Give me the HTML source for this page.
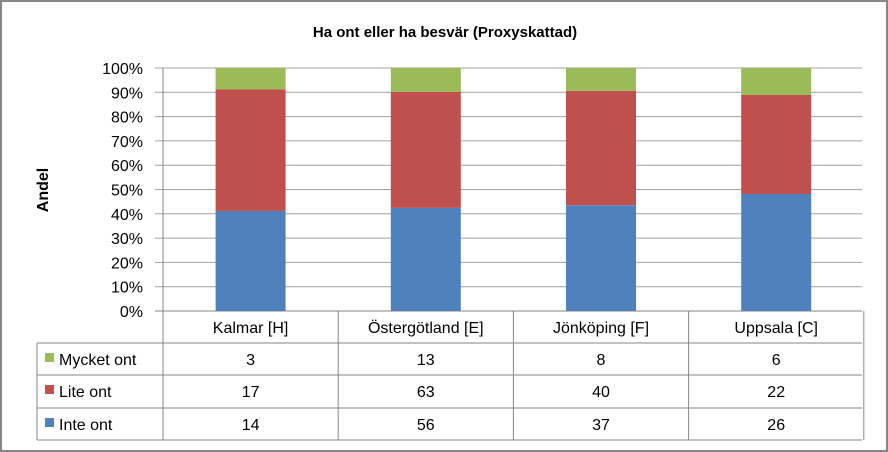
<!DOCTYPE html>
<html><head><meta charset="utf-8"><style>
body{margin:0;background:#fff}
svg{display:block;font-family:"Liberation Sans",sans-serif}
</style></head><body>
<svg id="c" width="888" height="452">
<rect x="1" y="1" width="886" height="450" fill="#fff" stroke="#868686" stroke-width="2"/>
<text x="445" y="37" text-anchor="middle" font-size="15" font-weight="bold">Ha ont eller ha besvär (Proxyskattad)</text>
<text transform="translate(48,190) rotate(-90)" text-anchor="middle" font-size="16" font-weight="bold">Andel</text>
<g id="grid"></g><g id="bars"></g><g id="table"></g>
</svg>
<script>
const categories=["Kalmar [H]","Östergötland [E]","Jönköping [F]","Uppsala [C]"];
const seriesNames=["Inte ont","Lite ont","Mycket ont"];
const inteOnt=[14,56,37,26];
const liteOnt=[17,63,40,22];
const mycketOnt=[3,13,8,6];
const yTicks=[0,10,20,30,40,50,60,70,80,90,100];
const colors=["#4F81BD","#C0504D","#9BBB59"];
const NS="http://www.w3.org/2000/svg";
const X0=163,X1=862,Y0=311,Y1=68,bw=175.2,barW=70;
const y=v=>Y0-(Y0-Y1)*v/100;
const xc=i=>X0+bw*(i+0.5);
function mk(p,t,a){const e=document.createElementNS(NS,t);for(const k in a)e.setAttribute(k,a[k]);p.appendChild(e);return e;}
const grid=document.getElementById('grid'),bars=document.getElementById('bars'),tab=document.getElementById('table');
yTicks.forEach(t=>{
 const l=mk(grid,'line',{x1:155,x2:X1,y1:y(t),y2:y(t),stroke:t===0?'#868686':'#a0a0a0','stroke-width':1});
 
 
 const tx=mk(grid,'text',{x:143,y:y(t)+6,'text-anchor':'end','font-size':16});
 tx.textContent=t+'%';
 
 
});
const ax=mk(grid,'line',{x1:X0,x2:X0,y1:Y1,y2:440,stroke:'#868686'});


const series=[inteOnt,liteOnt,mycketOnt];
categories.forEach((c,i)=>{
 const tot=inteOnt[i]+liteOnt[i]+mycketOnt[i];let acc=0;
 series.forEach((s,j)=>{
  const v=s[i]/tot*100;
  const r=mk(bars,'rect',{x:xc(i)-barW/2,y:y(acc+v),width:barW,height:y(acc)-y(acc+v),fill:colors[j]});
  
  
  acc+=v;
 });
});
// table
const rowsY=[311,343,375,408,440];
const L=37;
mk(tab,'line',{x1:L,x2:L,y1:343,y2:440,stroke:'#868686'});
for(let k=0;k<=4;k++){mk(tab,'line',{x1:X0+bw*k,x2:X0+bw*k,y1:311,y2:440,stroke:'#868686'});}
rowsY.forEach((ry,k)=>{if(k>0)mk(tab,'line',{x1:k===0?X0:L,x2:X1,y1:ry,y2:ry,stroke:'#868686'});});
categories.forEach((c,i)=>{
 const t=mk(tab,'text',{x:xc(i),y:333,'text-anchor':'middle','font-size':16});
 t.textContent=c;
 
 
});
const rowOrder=[2,1,0];
rowOrder.forEach((j,r)=>{
 const cy=rowsY[r+1]+22;
 const sw=mk(tab,'rect',{x:45,y:cy-12,width:9,height:9,fill:colors[j]});
 
 
 const lt=mk(tab,'text',{x:59,y:cy,'font-size':16});
 lt.textContent=seriesNames[j];
 
 
 series[j].forEach((v,i)=>{
  const t=mk(tab,'text',{x:xc(i),y:cy,'text-anchor':'middle','font-size':16});
  t.textContent=v;
  
  
 });
});
</script>
</body></html>
